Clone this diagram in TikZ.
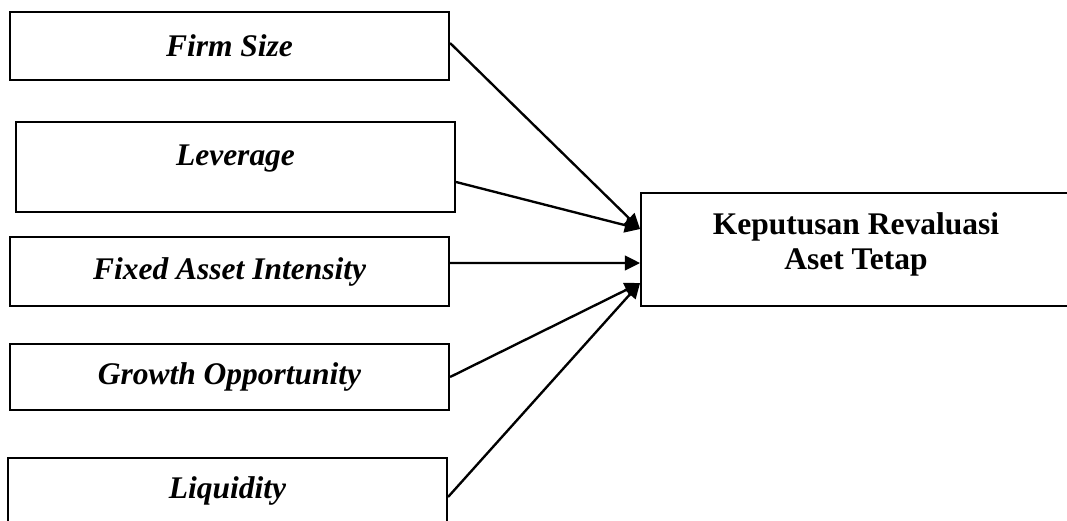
\documentclass[tikz,border=0pt]{standalone}
\usepackage{fontspec}
\setmainfont{Liberation Serif}
\usetikzlibrary{calc,arrows.meta}

\begin{document}
\begin{tikzpicture}[x=0.381pt,y=-0.381pt]
  \tikzset{
    varbox/.style={draw,line width=0.75pt,inner sep=0pt,minimum width=167.3pt,
      font=\fontsize{12}{13.3}\selectfont\bfseries\itshape},
    depbox/.style={draw,line width=0.75pt,inner sep=0pt,align=center,
      minimum width=163.8pt,minimum height=43.1pt,
      font=\fontsize{12}{13.3}\selectfont\bfseries},
    arr/.style={-{Triangle[length=5.8pt,width=5.6pt]},line width=0.9pt}
  }
  \useasboundingbox (0,0) rectangle (1067,520);

  %% Independent variables
  \node[varbox,minimum height=25.9pt] (FS)  at (229.5,46)  {Firm Size};
  \node[varbox,minimum height=34.3pt,text depth=8.7pt] (LEV) at (235.5,167) {Leverage};
  \node[varbox,minimum height=26.3pt] (FAI) at (229.5,271.5) {Fixed Asset Intensity};
  \node[varbox,minimum height=25.1pt] (GO)  at (229.5,377) {Growth Opportunity};
  \node[varbox,minimum height=25.1pt] (LIQ) at (227.5,491) {Liquidity};

  %% Dependent variable
  \node[depbox,text depth=6.7pt] (KRA) at (856,249.5) {Keputusan Revaluasi\\Aset Tetap};

  %% Arrows
  \draw[arr] ($(FS.east)+(0,-3)$)   -- ($(KRA.west)+(0,-20.5)$);
  \draw[arr] ($(LEV.east)+(0,15)$)  -- ($(KRA.west)+(0,-20.5)$);
  \draw[arr] ($(FAI.east)+(0,-8.5)$) -- ($(KRA.west)+(0,13.5)$);
  \draw[arr] (GO.east)              -- ($(KRA.west)+(0,33.5)$);
  \draw[arr] ($(LIQ.east)+(0,6)$)   -- ($(KRA.west)+(0,33.5)$);
\end{tikzpicture}
\end{document}
